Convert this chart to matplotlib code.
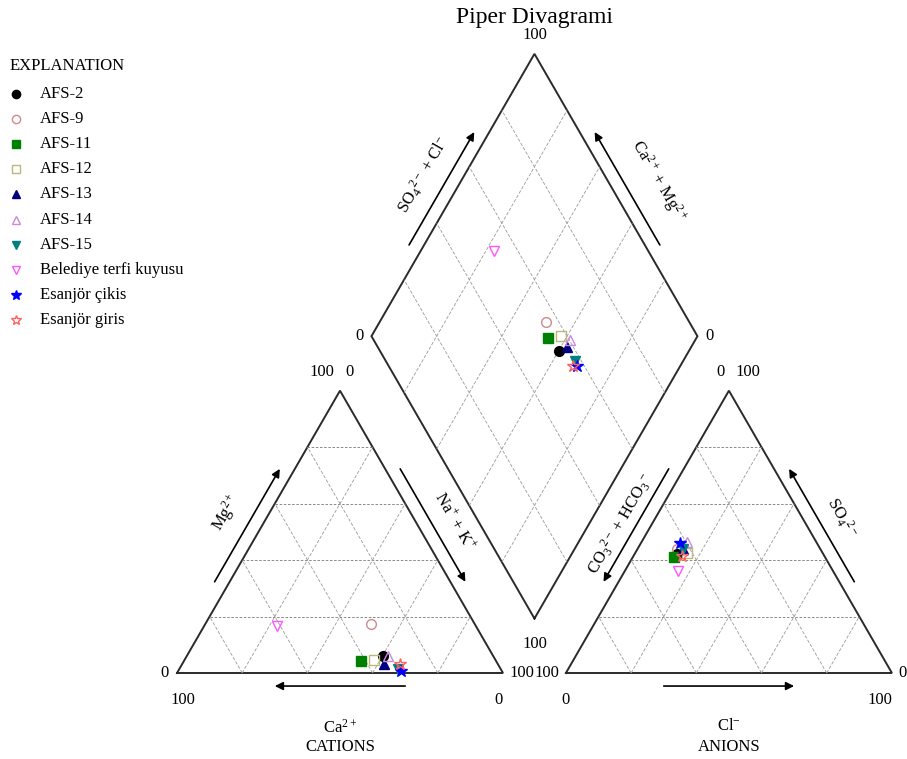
import numpy as np
import matplotlib.pyplot as plt

plt.rcParams['font.family'] = ['Liberation Serif', 'DejaVu Serif']
plt.rcParams['mathtext.fontset'] = 'custom'
plt.rcParams['mathtext.rm'] = 'Liberation Serif'
plt.rcParams['mathtext.it'] = 'Liberation Serif:italic'
plt.rcParams['mathtext.bf'] = 'Liberation Serif:bold'

# Sample chemistry, percent of meq/L
samples = ['AFS-2', 'AFS-9', 'AFS-11', 'AFS-12', 'AFS-13', 'AFS-14', 'AFS-15',
           'Belediye terfi kuyusu', 'Esanjör çikis', 'Esanjör giris']
mg = np.array([6.0, 17.4, 4.2, 4.6, 3.2, 6.0, 1.5, 16.6, 0.7, 3.2])
nak = np.array([60.2, 50.8, 54.3, 58.2, 62.0, 61.6, 66.9, 22.4, 68.5, 66.9])
ca = 100 - mg - nak
so4 = np.array([42.0, 44.0, 41.2, 42.4, 44.0, 46.5, 44.0, 36.2, 45.9, 41.5])
cl = np.array([13.0, 12.0, 12.6, 15.8, 14.0, 13.8, 14.0, 16.3, 12.0, 15.0])
hco3 = 100 - so4 - cl

markers = ['o', 'o', 's', 's', '^', '^', 'v', 'v', '*', '*']
colors = ['black', '#d08a8a', 'green', '#b8b878', '#000080', '#cc88dd',
          '#008080', '#ff55ff', 'blue', '#ff6060']
filled = [True, False, True, False, True, False, True, False, True, False]
sizes = [7, 7, 7.5, 7.5, 7, 7, 7, 7, 9, 9]

H = np.sqrt(3) / 2
GAP = 0.193
OX = 1 + GAP  # left corner of anion triangle


def cation_xy(mg, nak):
    return nak / 100 + 0.5 * mg / 100, H * mg / 100


def anion_xy(so4, cl):
    return OX + cl / 100 + 0.5 * so4 / 100, H * so4 / 100


def diamond_xy(nak, so4, cl):
    u = 1 - nak / 100
    v = (so4 + cl) / 100
    return 1 + GAP / 2 + 0.5 * (v - u), H * GAP + H * (u + v)


fig = plt.figure(figsize=(9.07, 7.59), dpi=100)
ax = fig.add_axes([0, 0, 1, 1])
ax.set_xlim(-177 / 326, (907 - 177) / 326)
ax.set_ylim(-(759 - 673) / 326, 673 / 326)
ax.axis('off')

edge = dict(color='#2a2a2a', lw=1.4, solid_joinstyle='miter')
hgrid = dict(color='#777777', lw=0.6, ls=(0, (3, 2)))
dgrid = dict(color='#999999', lw=0.6, ls=(0, (4, 2)))

# triangles
for ox in (0, OX):
    ax.plot([ox, ox + 1, ox + 0.5, ox], [0, 0, H, 0], **edge)
    for k in (0.2, 0.4, 0.6, 0.8):
        ax.plot([ox + k / 2, ox + 1 - k / 2], [k * H, k * H], **hgrid)
        ax.plot([ox + k, ox + k + (1 - k) / 2], [0, (1 - k) * H], **dgrid)
        ax.plot([ox + k, ox + k / 2], [0, k * H], **dgrid)

# diamond
B = np.array([1 + GAP / 2, H * GAP])
U = np.array([-0.5, H])
V = np.array([0.5, H])
L, R, T = B + U, B + V, B + U + V
dm = np.array([B, R, T, L, B])
ax.plot(dm[:, 0], dm[:, 1], **edge)
for k in (0.2, 0.4, 0.6, 0.8):
    p0, p1 = B + k * V, B + k * V + U
    ax.plot([p0[0], p1[0]], [p0[1], p1[1]], **dgrid)
    p0, p1 = B + k * U, B + k * U + V
    ax.plot([p0[0], p1[0]], [p0[1], p1[1]], **dgrid)


def along(p0, p1, f, d):
    p0, p1 = np.asarray(p0, float), np.asarray(p1, float)
    t = (p1 - p0) / np.linalg.norm(p1 - p0)
    n = np.array([-t[1], t[0]])
    return p0 + f * (p1 - p0) + d * n


def side_arrow(p0, p1, d):
    a = along(p0, p1, 0.3, d)
    b = along(p0, p1, 0.7, d)
    ax.annotate('', xy=b, xytext=a,
                arrowprops=dict(arrowstyle='-|>', color='black', lw=1.2,
                                mutation_scale=12, shrinkA=0, shrinkB=0))


# arrows (normal points left of p0->p1 direction)
side_arrow((0, 0), (0.5, H), 0.04)             # Mg
side_arrow((0.5, H), (1, 0), 0.04)             # Na+K
side_arrow((1, 0), (0, 0), 0.04)               # Ca
side_arrow((OX + 0.5, H), (OX, 0), -0.04)      # CO3+HCO3
side_arrow((OX + 1, 0), (OX + 0.5, H), -0.04)  # SO4
side_arrow((OX, 0), (OX + 1, 0), -0.04)        # Cl
side_arrow(L, T, 0.04)                         # SO4+Cl
side_arrow(R, T, -0.04)                        # Ca+Mg

fs = 12
rot_labels = [
    ((0, 0), (0.5, H), 0.5, 0.116, r'Mg$^{2+}$', 60),
    ((0.5, H), (1, 0), 0.523, 0.106, r'Na$^{+}$ + K$^{+}$', -60),
    ((OX + 0.5, H), (OX, 0), 0.52, -0.085, r'CO$_3$$^{2-}$ + HCO$_3$$^{-}$', 60),
    ((OX + 1, 0), (OX + 0.5, H), 0.488, -0.105, r'SO$_4$$^{2-}$', -60),
    (L, T, 0.508, 0.11, r'SO$_4$$^{2-}$ + Cl$^{-}$', 60),
    (R, T, 0.473, -0.133, r'Ca$^{2+}$ + Mg$^{2+}$', -60),
]
for p0, p1, f, d, txt, rot in rot_labels:
    x, y = along(p0, p1, f, d)
    ax.text(x, y, txt, rotation=rot, ha='center', va='center', fontsize=fs,
            rotation_mode='anchor')

# corner values
corner = [
    (-0.037, 0, '0'), (0.018, -0.083, '100'),
    (0.985, -0.083, '0'), (1.058, 0, '100'),
    (0.445, H + 0.057, '100'), (0.528, H + 0.057, '0'),
    (OX - 0.058, 0, '100'), (OX, -0.083, '0'),
    (OX + 1.031, 0, '0'), (OX + 0.964, -0.083, '100'),
    (OX + 0.473, H + 0.057, '0'), (OX + 0.559, H + 0.057, '100'),
    (T[0], T[1] + 0.058, '100'), (L[0] - 0.037, L[1], '0'),
    (R[0] + 0.037, R[1], '0'), (B[0], B[1] - 0.077, '100'),
]
for x, y, s in corner:
    ax.text(x, y, s, ha='center', va='center', fontsize=fs)

ax.text(0.5, -0.169, r'Ca$^{2+}$', ha='center', va='center', fontsize=fs)
ax.text(0.5, -0.227, 'CATIONS', ha='center', va='center', fontsize=fs)
ax.text(OX + 0.5, -0.162, r'Cl$^{-}$', ha='center', va='center', fontsize=fs)
ax.text(OX + 0.5, -0.227, 'ANIONS', ha='center', va='center', fontsize=fs)
ax.text(535 / 907, 1 - 18 / 759, 'Piper Divagrami', transform=ax.transAxes,
        ha='center', va='center', fontsize=17)

# samples
cx, cy = cation_xy(mg, nak)
axx, ayy = anion_xy(so4, cl)
dx, dy = diamond_xy(nak, so4, cl)
for i, name in enumerate(samples):
    face = colors[i] if filled[i] else 'none'
    for x, y in ((cx[i], cy[i]), (axx[i], ayy[i]), (dx[i], dy[i])):
        ax.plot(x, y, marker=markers[i], ms=sizes[i], mfc=face, mec=colors[i],
                mew=1.0, ls='none', zorder=5)

# explanation block
ax.text(10 / 907, 1 - 66 / 759, 'EXPLANATION', transform=ax.transAxes,
        ha='left', va='center', fontsize=fs)
for i, name in enumerate(samples):
    yy = 1 - (94 + 25.1 * i) / 759
    face = colors[i] if filled[i] else 'none'
    ax.plot(16 / 907, yy, marker=markers[i], ms=sizes[i] * 0.85, mfc=face,
            mec=colors[i], mew=1.0, ls='none', transform=ax.transAxes,
            clip_on=False)
    ax.text(40 / 907, yy, name, transform=ax.transAxes, ha='left',
            va='center', fontsize=fs)

fig.savefig('out.png', dpi=100)
